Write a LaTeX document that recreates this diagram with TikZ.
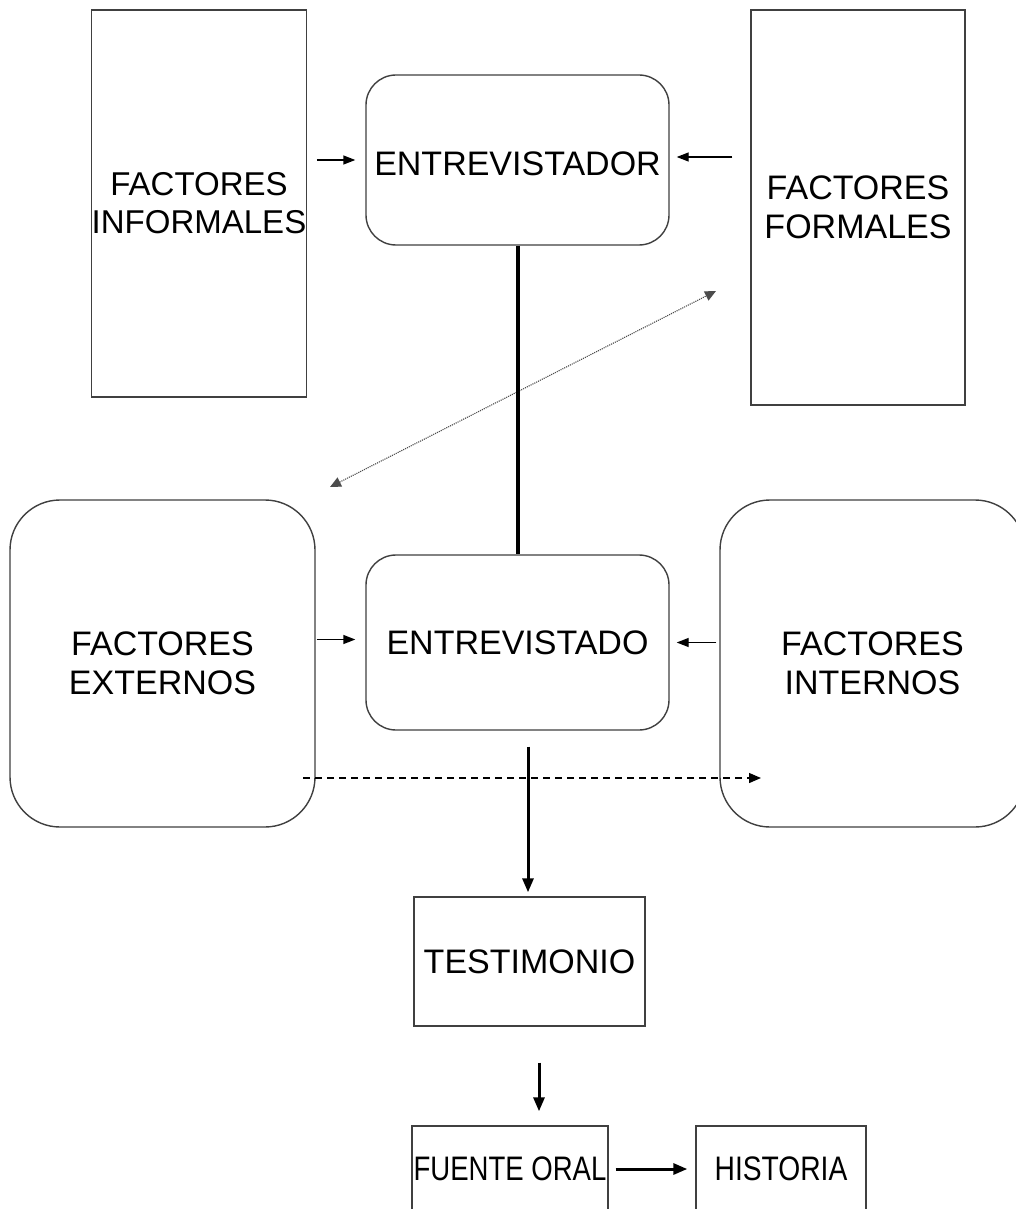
\documentclass[tikz,border=0pt]{standalone}
\usepackage{fontspec}
\setmainfont{Liberation Sans}
\usetikzlibrary{arrows.meta}
\definecolor{boxline}{HTML}{404040}
\begin{document}
\begin{tikzpicture}[x=1pt,y=-1pt,
  box/.style={draw=boxline,line width=1.4pt,inner sep=0pt,align=center,
    font=\fontsize{34}{39}\selectfont},
  rbox/.style={box,rounded corners=30pt},
  bigrbox/.style={box,rounded corners=50pt},
  thinarrow/.style={line width=1.4pt,-{Triangle[length=12pt,width=9pt]}},
  thickarrow/.style={line width=3pt,-{Triangle[length=14pt,width=11pt]}},
]
\useasboundingbox (0,0) rectangle (1016,1209);
\clip (0,0) rectangle (1016,1209);
\fill[white] (0,0) rectangle (1016,1209);

\node[box,minimum width=214pt,minimum height=387pt,font=\fontsize{33}{38}\selectfont] (inf) at (199,203.5) {FACTORES\\INFORMALES};
\node[rbox,minimum width=303pt,minimum height=170pt] (edor) at (517.5,160) {\raisebox{-3pt}[24pt][0pt]{ENTREVISTADOR}};
\node[box,minimum width=214pt,minimum height=395pt] (for) at (858,207.5) {FACTORES\\FORMALES};
\node[bigrbox,minimum width=305pt,minimum height=327pt] (ext) at (162.5,663.5) {FACTORES\\EXTERNOS};
\node[rbox,minimum width=303pt,minimum height=175pt] (edo) at (517.5,642.5) {ENTREVISTADO};
\node[bigrbox,minimum width=305pt,minimum height=327pt] (int) at (872.5,663.5) {FACTORES\\INTERNOS};
\node[box,minimum width=231pt,minimum height=129pt] (test) at (529.5,961.5) {TESTIMONIO};
\node[box,minimum width=196pt,minimum height=86pt] (fuente) at (510,1169) {\scalebox{0.81}[1]{FUENTE ORAL}};
\node[box,minimum width=170pt,minimum height=86pt] (hist) at (781,1169) {\scalebox{0.83}[1]{HISTORIA}};

% top arrows
\draw[thinarrow] ([xshift=10]inf.east |- edor.west) -- ([xshift=-10]edor.west);
\draw[thinarrow] ([xshift=-18,yshift=3]for.west |- edor.east) -- ([xshift=7,yshift=3]edor.east);

% dotted double arrow
\coordinate (dl) at (330,487);
\coordinate (dr) at (716,291);
\draw[densely dotted,line width=1.1pt,color=black!70,{Triangle[length=11pt,width=10pt]}-{Triangle[length=11pt,width=10pt]}] (dl) -- (dr);

% thick link
\draw[line width=4pt] (edor.south) -- (edo.north);

% middle arrows
\draw[thinarrow] ([xshift=1,yshift=3]ext.east |- edo.west) -- ([xshift=-10,yshift=3]edo.west);
\draw[thinarrow] ([xshift=-3]int.west |- edo.east) -- ([xshift=7]edo.east);

% dashed arrow
\coordinate (ds) at (303,778);
\coordinate (de) at (761,778);
\draw[dashed,line width=1.3pt,dash pattern=on 7pt off 5pt,-{Triangle[length=12pt,width=10pt]}] (ds) -- (de);

% lower arrows
\draw[thickarrow] ([xshift=10.5,yshift=-16]edo.south) -- ([xshift=-1.5,yshift=4]test.north);
\draw[thickarrow] ([xshift=9.5,yshift=-36]test.south) -- ([xshift=29,yshift=14]fuente.north);
\draw[thickarrow] ([xshift=7]fuente.east) -- ([xshift=-8]hist.west);
\end{tikzpicture}
\end{document}
